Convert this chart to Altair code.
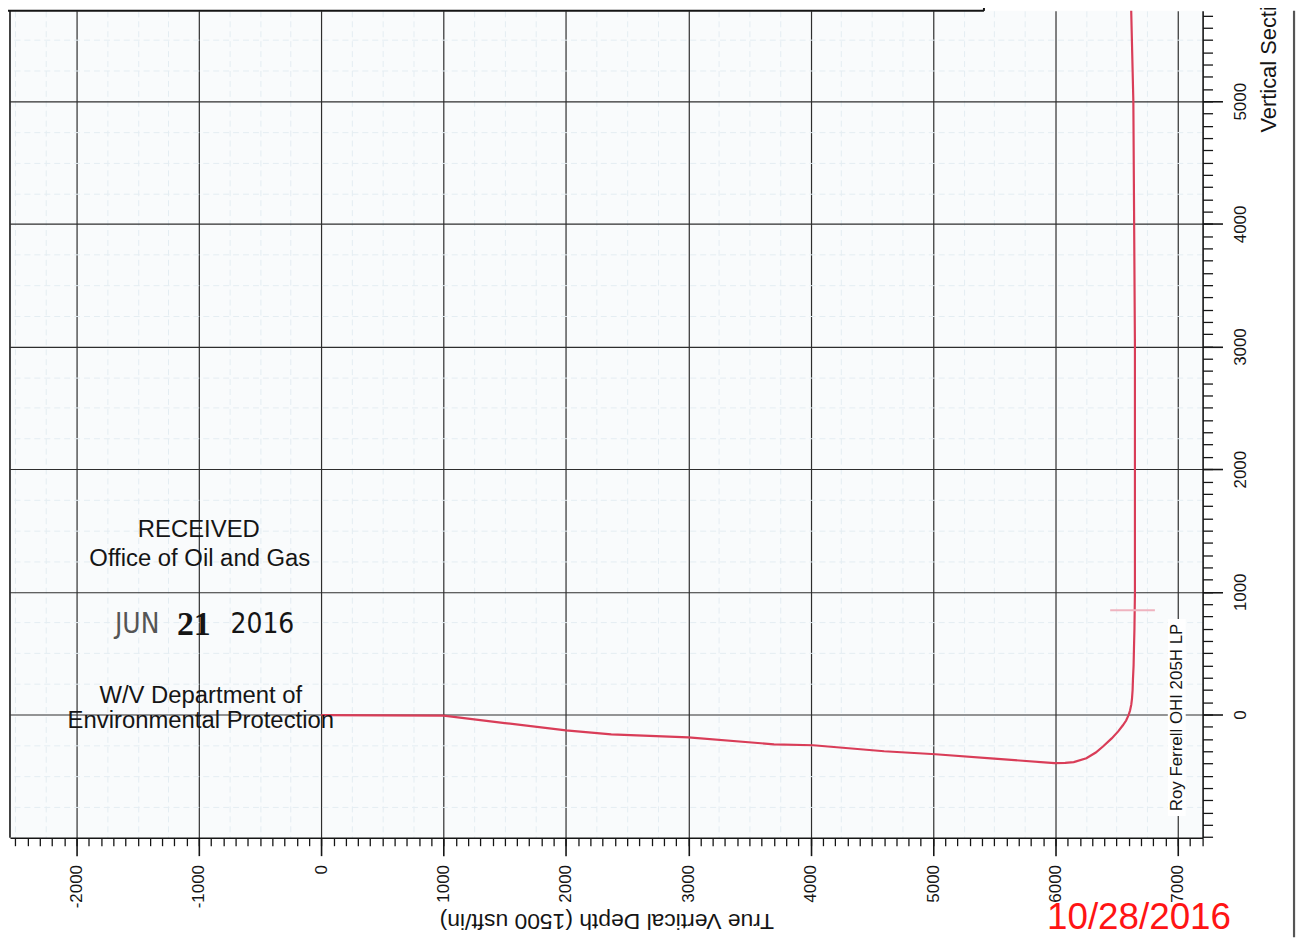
import altair as alt
import pandas as pd

# ---- well path (True Vertical Depth vs Vertical Section) ----
tvd = [0, 500, 1000, 1500, 2000, 2370, 3000, 3700, 4020, 4600, 5020, 5500, 5993,
       6080, 6150, 6253, 6330, 6391, 6460, 6513, 6550, 6578, 6598, 6610, 6620, 6626,
       6631, 6634, 6639, 6642, 6646, 6650, 6650, 6637, 6618]
vs = [-5, -7, -10, -70, -130, -162, -186, -243, -251, -300, -324, -360, -397,
      -395, -388, -357, -310, -259, -195, -138, -90, -49, -5, 32, 80, 130,
      200, 292, 400, 535, 700, 997, 2998, 5000, 5800]

x_major = list(range(-2000, 7001, 1000))
y_major = list(range(0, 5001, 1000))
x_minor = list(range(-2500, 7201, 100))
y_minor = list(range(-1000, 5701, 100))
x_fine = [v for v in range(-2500, 7201, 250) if v % 1000]
y_fine = [v for v in range(-1000, 5701, 250) if v % 1000]

stamp_lines = ["RECEIVED", "Office of Oil and Gas", "W/V Department of", "Environmental Protection"]
stamp_date = ["JUN", "21", "2016"]
well_name = "Roy Ferrell OHI 205H LP"
scan_date = "10/28/2016"
x_title = "True Vertical Depth (1500 usft/in)"
y_title = "Vertical Section (1500 usft/in)"

XDOM = [-2544, 7203]
YDOM = [-1005, 5737]
FONT = "Liberation Sans"
NARROW = "DejaVu Sans Condensed, Liberation Sans"
INK = "#151515"

df = pd.DataFrame({"tvd": tvd, "vs": vs, "order": list(range(len(tvd)))})
one = pd.DataFrame({"k": [0]})

xs = alt.Scale(domain=XDOM, nice=False, zero=False)
ys = alt.Scale(domain=YDOM, nice=False, zero=False)

base = alt.Chart(df)

# faint fine grid (scan texture)
fine = base.mark_point(opacity=0).encode(
    x=alt.X("tvd:Q", scale=xs, axis=alt.Axis(orient="bottom", values=x_fine, grid=True, gridColor="#e4edf2",
                                             gridDash=[6, 4], gridWidth=1, ticks=False, labels=False,
                                             domain=False, title=None)),
    y=alt.Y("vs:Q", scale=ys, axis=alt.Axis(orient="right", values=y_fine, grid=True, gridColor="#e4edf2",
                                            gridDash=[6, 4], gridWidth=1, ticks=False, labels=False,
                                            domain=False, title=None)),
)

# minor ticks every 100
minor = base.mark_point(opacity=0).encode(
    x=alt.X("tvd:Q", scale=xs, axis=alt.Axis(orient="bottom", values=x_minor, tickSize=8, tickColor=INK,
                                             tickWidth=1.3, labels=False, domain=False, grid=False,
                                             title=None)),
    y=alt.Y("vs:Q", scale=ys, axis=alt.Axis(orient="right", values=y_minor, tickSize=10, tickColor=INK,
                                            tickWidth=1.3, labels=False, domain=False, grid=False,
                                            title=None)),
)

# main path with major axes
line = base.mark_line(color="#d93d58", strokeWidth=2.2, clip=True).encode(
    x=alt.X("tvd:Q", scale=xs, axis=alt.Axis(
        orient="bottom", values=x_major, tickSize=18, tickWidth=1.6, tickColor=INK,
        labelAngle=270, labelFontSize=17, labelFont=FONT, labelColor=INK, labelPadding=9,
        labelFlush=False, labelExpr="'' + datum.value",
        domain=True, domainColor=INK, domainWidth=1.6,
        grid=True, gridColor="#2e2e2e", gridWidth=1.2,
        title=x_title, titleAngle=180, titleFontSize=23, titleFont=FONT, titleFontWeight="normal",
        titleColor=INK, titleX=600, titleY=83, titleAlign="center", titleBaseline="middle")),
    y=alt.Y("vs:Q", scale=ys, axis=alt.Axis(
        orient="right", values=y_major, tickSize=20, tickWidth=1.6, tickColor=INK,
        labelAngle=270, labelAlign="center", labelBaseline="top", labelPadding=10,
        labelFontSize=17, labelFont=FONT, labelColor=INK, labelFlush=False,
        labelExpr="'' + datum.value",
        domain=True, domainColor=INK, domainWidth=1.6,
        grid=True, gridColor="#2e2e2e", gridWidth=1.2,
        title=y_title, titleAngle=270, titleFontSize=22, titleFont=FONT, titleFontWeight="normal",
        titleColor=INK, titleX=66, titleY=122, titleAlign="left", titleBaseline="middle")),
    order="order:Q",
)


def txt(text, x, y, size, **kw):
    params = dict(text=text, fontSize=size, font=FONT, color=INK, align="center", baseline="middle")
    params.update(kw)
    return alt.Chart(one).mark_text(**params).encode(x=alt.value(x), y=alt.value(y))


def rule(x, y, x2, y2, color=INK, width=1.6):
    return alt.Chart(one).mark_rule(color=color, strokeWidth=width).encode(
        x=alt.value(x), y=alt.value(y), x2=alt.value(x2), y2=alt.value(y2))


frame = [
    rule(0, 0, 0, 832),            # left frame
    rule(-2, 0, 980, 0, width=2),  # top box line
    rule(980, -8, 980, 0, width=2),
    rule(1292, 0, 1292, 932, color="#555555", width=2.2),  # page edge
    rule(1107, 603, 1152, 603, color="#efb3bf", width=2),  # faint marker near landing
]

name_bg = alt.Chart(one).mark_rect(color="white").encode(
    x=alt.value(1165), x2=alt.value(1183), y=alt.value(612), y2=alt.value(810))

annotations = [
    txt(stamp_lines[0], 190, 522, 24),
    txt(stamp_lines[1], 191, 552, 24),
    txt(stamp_date[0], 128, 618, 28, font=NARROW, color="#555555"),
    txt(stamp_date[1], 185, 618, 34, font="Liberation Serif", fontWeight="bold"),
    txt(stamp_date[2], 254, 618, 28, font=NARROW),
    txt(stamp_lines[2], 192, 689, 24),
    txt(stamp_lines[3], 192, 715, 24),
    txt(well_name, 1174, 711, 17, angle=270),
    txt(scan_date, 1136, 913, 37, color="#ff1414"),
]

chart = alt.layer(fine, minor, line, name_bg, *frame, *annotations).resolve_axis(
    x="independent", y="independent"
).properties(
    width=1200, height=832,
    autosize=alt.AutoSizeParams(type="none"),
    padding={"left": 2, "top": 0, "right": 98, "bottom": 100},
    background="white",
).configure_view(
    stroke=None, fill="#f9fbfc"
)

chart.save("out.html", embed_options={"renderer": "svg", "actions": False})
